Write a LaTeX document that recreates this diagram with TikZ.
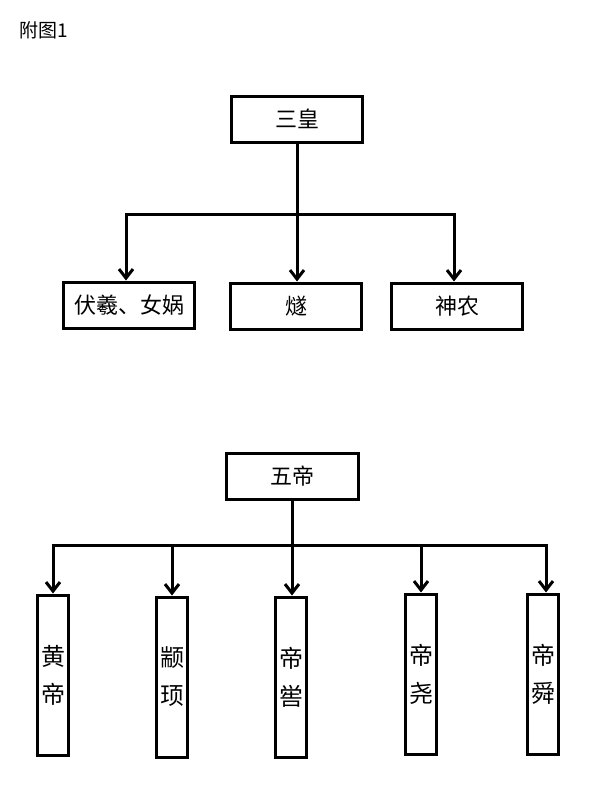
\documentclass[tikz,border=0pt]{standalone}
\usepackage{fontspec}
\setmainfont{Noto Sans CJK SC}
\usetikzlibrary{arrows.meta}

\begin{document}
\begin{tikzpicture}[x=1pt,y=-1pt]
	\tikzstyle{box}=[draw,line width=3pt,inner sep=0pt,font=\fontsize{22}{26}\selectfont]
	\tikzstyle{wide}=[box,minimum width=131pt,minimum height=46pt]
	\tikzstyle{tall}=[box,minimum width=31pt,minimum height=160pt,align=center,font=\fontsize{24}{38}\selectfont]
	\tikzstyle{link}=[line width=3pt]
	\tikzstyle{arr}=[link,-{Straight Barb[length=9pt,width=14pt]}]
	\useasboundingbox (0,0) rectangle (600,800);
	\node[anchor=west,font=\fontsize{19}{22}\selectfont] (title) at (16,30) {附图1};
	% three sovereigns
	\node[wide] (sanhuang) at (297,119) {三皇};
	\node[wide] (fuxi) at (129,305) {伏羲、女娲};
	\node[wide] (sui) at (296,306) {燧};
	\node[wide] (shennong) at (457,306) {神农};
	\coordinate (bus1) at (297,214);
	\draw[arr] (sanhuang.south) -- (sanhuang.south |- sui.north);
	\draw[arr] (bus1) -| ([xshift=-3pt]fuxi.north);
	\draw[arr] (bus1) -| ([xshift=-3pt]shennong.north);
	% five emperors
	\node[wide,minimum width=132pt] (wudi) at (292,476) {五帝};
	\node[tall] (huangdi) at (53,675) {黄\\帝};
	\node[tall] (zhuanxu) at (172,677) {颛\\顼};
	\node[tall] (diku) at (291,677) {帝\\喾};
	\node[tall] (diyao) at (421,674) {帝\\尧};
	\node[tall] (dishun) at (543,674) {帝\\舜};
	\coordinate (bus2) at (292,545);
	\draw[arr] (wudi.south) -- (wudi.south |- diku.north);
	\draw[arr] (bus2) -| (huangdi.north);
	\draw[arr] (bus2) -| (zhuanxu.north);
	\draw[arr] (bus2) -| (diyao.north);
	\draw[arr] (bus2) -| ([xshift=3pt]dishun.north);
\end{tikzpicture}
\end{document}
